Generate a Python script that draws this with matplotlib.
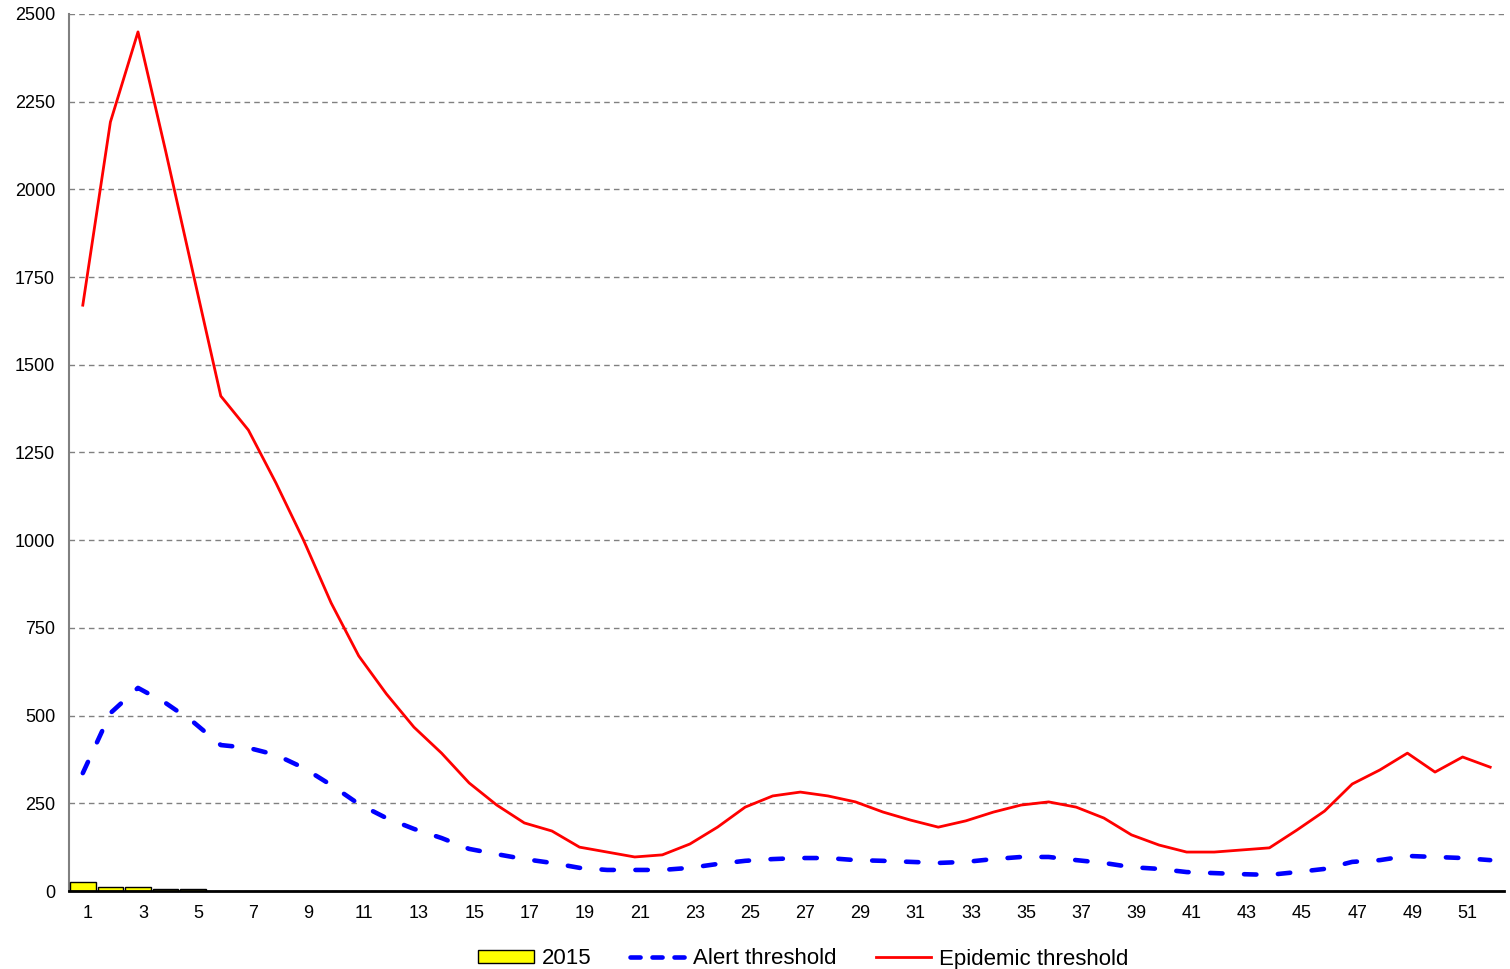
import matplotlib
matplotlib.use("Agg")
import matplotlib.pyplot as plt
import matplotlib.transforms as mtransforms
from matplotlib.patches import Patch
from matplotlib.lines import Line2D

plt.rcParams['font.family'] = ['Liberation Sans', 'DejaVu Sans']

weeks = list(range(1, 53))
cases_2015 = [26, 11, 11, 5, 5]
alert = [336, 507, 579, 536, 482, 416, 408, 388, 351, 302,
         248, 208, 177, 151, 120, 105, 91, 80, 66, 60,
         60, 60, 66, 77, 86, 91, 94, 94, 88, 86,
         83, 80, 83, 91, 97, 97, 88, 80, 68, 63,
         54, 51, 48, 46, 54, 63, 83, 88, 100, 97,
         94, 88]
epidemic = [1670, 2192, 2449, 2110, 1760, 1411, 1314, 1163, 1000, 821,
            670, 562, 467, 393, 308, 245, 194, 171, 125, 111,
            97, 103, 134, 182, 239, 271, 282, 271, 254, 225,
            202, 182, 200, 225, 245, 254, 239, 208, 160, 131,
            111, 111, 117, 123, 174, 228, 305, 345, 393, 339,
            382, 353]
yticks = [0, 250, 500, 750, 1000, 1250, 1500, 1750, 2000, 2250, 2500]

fig = plt.figure(figsize=(15.1, 9.69), dpi=100)
ax = fig.add_axes([69/1510, 78/969, 1435/1510, 877/969])

dash = (0, (2.7, 4.7))
ax.bar(weeks[:len(cases_2015)], cases_2015, width=0.93, color='#ffff00',
       edgecolor='black', linewidth=1, zorder=3)
ax.plot(weeks, alert, color='#0000ff', linewidth=3.3, linestyle=dash,
        dash_capstyle='round', zorder=4)
ax.plot(weeks, epidemic, color='#ff0000', linewidth=2.0, zorder=5)

ax.set_xlim(0.5, 52.5)
ax.set_ylim(0, 2500)
ax.set_yticks(yticks)
ax.set_yticklabels([str(v) for v in yticks])
ax.set_xticks(weeks[::2])
ax.set_xticklabels([str(w) for w in weeks[::2]])
ax.tick_params(axis='both', length=0, labelsize=13)
ax.tick_params(axis='x', pad=10)
ax.tick_params(axis='y', pad=10)
offset = mtransforms.ScaledTranslation(5/100, 0, fig.dpi_scale_trans)
for lbl in ax.get_xticklabels():
    lbl.set_transform(lbl.get_transform() + offset)
ax.yaxis.grid(True, color='#808080', linestyle=(0, (4, 3)), linewidth=1.0)
ax.set_axisbelow(True)
for s in ['top', 'right']:
    ax.spines[s].set_visible(False)
ax.spines['left'].set_color('#808080')
ax.spines['left'].set_linewidth(1.5)
ax.spines['bottom'].set_color('black')
ax.spines['bottom'].set_linewidth(2)
ax.spines['bottom'].set_zorder(6)

handles = [Patch(facecolor='#ffff00', edgecolor='black', linewidth=1),
           Line2D([0], [0], color='#0000ff', linewidth=3.3, linestyle=(0, (2.2, 2.6)),
                  dash_capstyle='round'),
           Line2D([0], [0], color='#ff0000', linewidth=2.0)]
labels = ['2015', 'Alert threshold', 'Epidemic threshold']
fig.legend(handles, labels, loc='center', bbox_to_anchor=(0.532, 10/969),
           ncol=3, frameon=False, fontsize=16, handlelength=2.5, handleheight=0.5,
           columnspacing=1.75, handletextpad=0.35)

fig.savefig('out.png', dpi=100)
